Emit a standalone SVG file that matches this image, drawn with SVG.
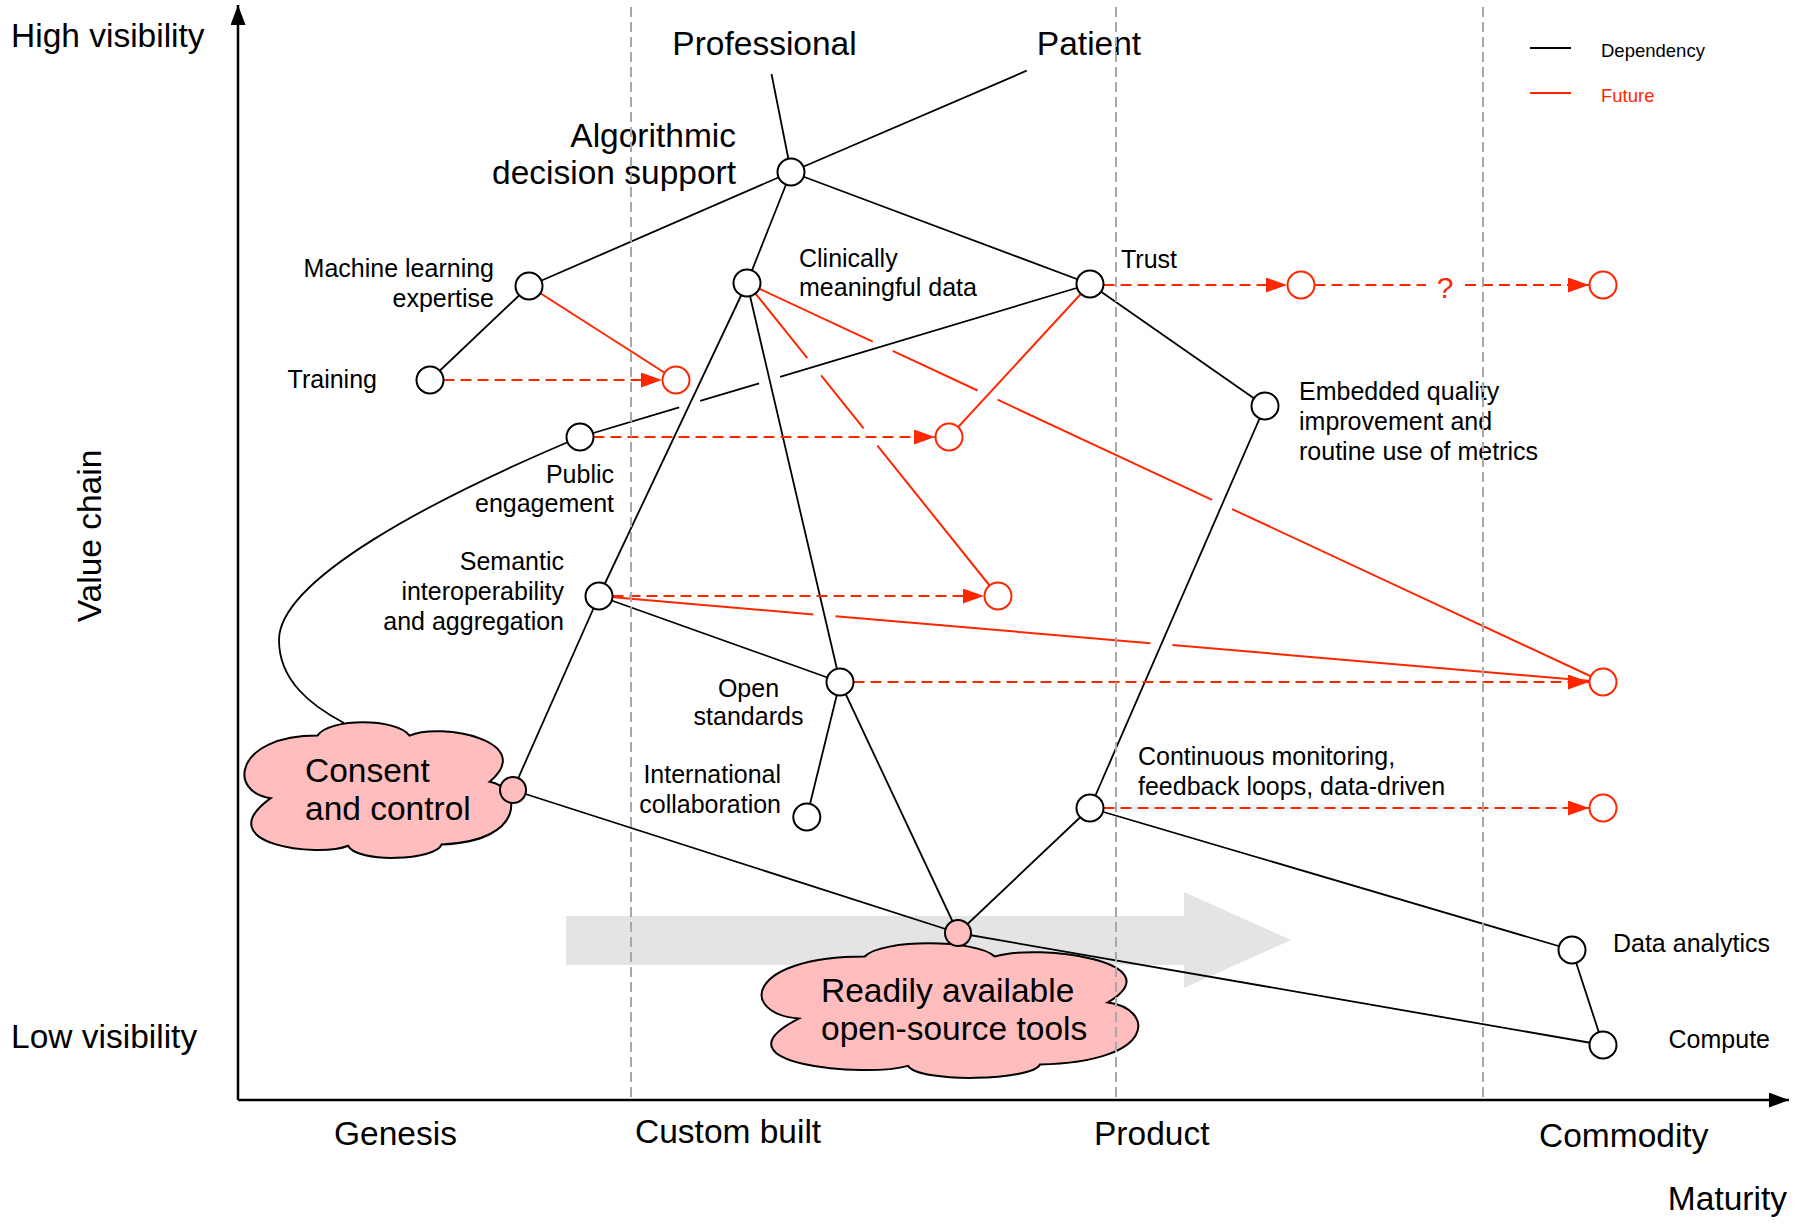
<svg xmlns="http://www.w3.org/2000/svg" width="1797" height="1231" viewBox="0 0 1797 1231">
  <style>
    text { font-family: "Liberation Sans", Arial, sans-serif; fill: #000; }
    .big { font-size: 33.5px; }
    .small { font-size: 25px; }
    .legend { font-size: 18.5px; }
    .red { fill: #ff2600; }
    .dep { fill: none; stroke: #000; stroke-width: 1.8; }
    .fut { fill: none; stroke: #ff2600; stroke-width: 2; }
    .futdash { fill: none; stroke: #ff2600; stroke-width: 2; stroke-dasharray: 11 6; }
    .guide { stroke: #a8a8a8; stroke-width: 2; stroke-dasharray: 10 5; }
    .axis { stroke: #000; stroke-width: 2.5; fill: none; }
    .n { fill: #fff; stroke: #000; stroke-width: 2; }
    .nf { fill: #fff; stroke: #ff2600; stroke-width: 2; }
    .np { fill: #ffbdbd; stroke: #000; stroke-width: 2; }
    .cloud { fill: #ffbdbd; stroke: #000; stroke-width: 2; }
  </style>
  <defs>
    <marker id="arrowRed" markerUnits="userSpaceOnUse" markerWidth="21" markerHeight="15" refX="21" refY="7.5" orient="auto">
      <path d="M0,0 L21,7.5 L0,15 Z" fill="#ff2600"/>
    </marker>
    <marker id="axisHead" markerUnits="userSpaceOnUse" markerWidth="20" markerHeight="15" refX="20" refY="7.5" orient="auto">
      <path d="M0,0 L20,7.5 L0,15 Z" fill="#000"/>
    </marker>
    <!-- cloud outline in a 100x100 box; stroke keeps its width when the box is stretched -->
    <path id="cloudShape" vector-effect="non-scaling-stroke" d="M10,56 C-6,52 -4,10 27.5,10 C32,-3 57,-3 62,10 C74,0 110,14 92,44 C104,48 106,88 74,90 C72,102 42,104 39,91 C28,100 -14,90 10,56 Z"/>
  </defs>

  <!-- evolution arrow -->
  <polygon id="evolution-arrow" points="566,916 1184,916 1184,892 1291,940 1184,988 1184,965 566,965" fill="#e4e4e4"/>

  <!-- axes -->
  <g id="axes">
    <line class="axis" x1="238" y1="1100" x2="238" y2="5" marker-end="url(#axisHead)"/>
    <line class="axis" x1="238" y1="1100" x2="1789" y2="1100" marker-end="url(#axisHead)"/>
    <text class="big" x="11" y="47">High visibility</text>
    <text class="big" x="11" y="1048">Low visibility</text>
    <text class="big" text-anchor="middle" transform="translate(101,536) rotate(-90)">Value chain</text>
    <text class="big" x="334" y="1145">Genesis</text>
    <text class="big" x="635" y="1143">Custom built</text>
    <text class="big" x="1094" y="1145">Product</text>
    <text class="big" x="1539" y="1147">Commodity</text>
    <text class="big" x="1787" y="1210" text-anchor="end">Maturity</text>
  </g>

  <!-- legend -->
  <g id="legend">
    <line x1="1530" y1="48" x2="1571" y2="48" stroke="#000" stroke-width="2"/>
    <text class="legend" x="1601" y="57">Dependency</text>
    <line x1="1530" y1="93" x2="1571" y2="93" stroke="#ff2600" stroke-width="2"/>
    <text class="legend red" x="1601" y="102">Future</text>
  </g>

  <g id="connectors">
    <!-- dependencies -->
    <path class="dep" d="M771.5,74 L791,172"/>
    <path class="dep" d="M1026.7,70.7 L791,172"/>
    <path class="dep" d="M791,172 L529,286"/>
    <path class="dep" d="M791,172 L747,283"/>
    <path class="dep" d="M791,172 L1090,284"/>
    <path class="dep" d="M529,286 L430,380"/>
    <path class="dep" d="M747,283 L599,596"/>
    <path class="dep" d="M747,283 L840,682"/>
    <path class="dep" d="M1090,284 L780.1,376.9 M759.1,383.3 L700.2,400.9 M679.2,407.3 L580,437"/>
    <path class="dep" d="M580,437 C430,500 279,580 279,640 C279,680 310,705 344,723"/>
    <path class="dep" d="M599,596 L840,682"/>
    <path class="dep" d="M599,596 L513,790"/>
    <path class="dep" d="M840,682 L806.8,817"/>
    <path class="dep" d="M840,682 L958,933"/>
    <path class="dep" d="M513,790 L958,933"/>
    <path class="dep" d="M958,933 L1090,808"/>
    <path class="dep" d="M1090,284 L1265,406"/>
    <path class="dep" d="M1265,406 L1090,808"/>
    <path class="dep" d="M1090,808 L1572,950"/>
    <path class="dep" d="M1572,950 L1603,1045"/>
    <path class="dep" d="M958,933 L1603,1045"/>

    <!-- future movements -->
    <path class="futdash" d="M443.5,380 L662,380" marker-end="url(#arrowRed)"/>
    <path class="futdash" d="M593.5,437 L935,437" marker-end="url(#arrowRed)"/>
    <path class="futdash" d="M612.5,596 L984,596" marker-end="url(#arrowRed)"/>
    <path class="futdash" d="M853.5,682 L1589,682" marker-end="url(#arrowRed)"/>
    <path class="futdash" d="M1103.5,285 L1287,285" marker-end="url(#arrowRed)"/>
    <path class="futdash" d="M1314.5,285 L1426,285"/>
    <path class="futdash" d="M1465,285 L1589,285" marker-end="url(#arrowRed)"/>
    <path class="futdash" d="M1103.5,808 L1589,808" marker-end="url(#arrowRed)"/>
    <text x="1445" y="298" text-anchor="middle" class="red" style="font-size:30px">?</text>

    <path class="fut" d="M529,286 L676,380"/>
    <path class="fut" d="M1090,284 L949,437"/>
    <path class="fut" d="M747,283 L807.3,358.2 M821.1,375.3 L863.6,428.4 M877.4,445.6 L998,596"/>
    <path class="fut" d="M747,283 L872.7,341.6 M892.7,350.8 L977.6,390.5 M997.6,399.7 L1212.1,499.9 M1232.1,509.1 L1603,682"/>
    <path class="fut" d="M599,596 L813.5,614.4 M835.5,616.2 L1150.4,643.2 M1172.4,645 L1603,682"/>
  </g>

  <!-- nodes -->
  <g id="professional">
    <text class="big" x="764.5" y="55" text-anchor="middle">Professional</text>
  </g>
  <g id="patient">
    <text class="big" x="1089" y="55" text-anchor="middle">Patient</text>
  </g>
  <g id="algorithmic-decision-support">
    <circle class="n" cx="791" cy="172" r="13.5"/>
    <text class="big" x="736" y="147" text-anchor="end">Algorithmic</text>
    <text class="big" x="736" y="184" text-anchor="end">decision support</text>
  </g>
  <g id="machine-learning-expertise">
    <circle class="n" cx="529" cy="286" r="13.5"/>
    <text class="small" x="494" y="277" text-anchor="end">Machine learning</text>
    <text class="small" x="494" y="307" text-anchor="end">expertise</text>
  </g>
  <g id="training">
    <circle class="n" cx="430" cy="380" r="13.5"/>
    <text class="small" x="377" y="388" text-anchor="end">Training</text>
  </g>
  <g id="clinically-meaningful-data">
    <circle class="n" cx="747" cy="283" r="13.5"/>
    <text class="small" x="799" y="267">Clinically</text>
    <text class="small" x="799" y="296">meaningful data</text>
  </g>
  <g id="trust">
    <circle class="n" cx="1090" cy="284" r="13.5"/>
    <text class="small" x="1121" y="268">Trust</text>
  </g>
  <g id="embedded-quality-improvement">
    <circle class="n" cx="1265" cy="406" r="13.5"/>
    <text class="small" x="1299" y="400">Embedded quality</text>
    <text class="small" x="1299" y="430">improvement and</text>
    <text class="small" x="1299" y="460">routine use of metrics</text>
  </g>
  <g id="public-engagement">
    <circle class="n" cx="580" cy="437" r="13.5"/>
    <text class="small" x="614" y="483" text-anchor="end">Public</text>
    <text class="small" x="614" y="512" text-anchor="end">engagement</text>
  </g>
  <g id="semantic-interoperability">
    <circle class="n" cx="599" cy="596" r="13.5"/>
    <text class="small" x="564" y="570" text-anchor="end">Semantic</text>
    <text class="small" x="564" y="600" text-anchor="end">interoperability</text>
    <text class="small" x="564" y="630" text-anchor="end">and aggregation</text>
  </g>
  <g id="open-standards">
    <circle class="n" cx="840" cy="682" r="13.5"/>
    <text class="small" x="748.5" y="697" text-anchor="middle">Open</text>
    <text class="small" x="748.5" y="725" text-anchor="middle">standards</text>
  </g>
  <g id="international-collaboration">
    <circle class="n" cx="806.8" cy="817" r="13.5"/>
    <text class="small" x="781" y="783" text-anchor="end">International</text>
    <text class="small" x="781" y="813" text-anchor="end">collaboration</text>
  </g>
  <g id="continuous-monitoring">
    <circle class="n" cx="1090" cy="808" r="13.5"/>
    <text class="small" x="1138" y="765">Continuous monitoring,</text>
    <text class="small" x="1138" y="795">feedback loops, data-driven</text>
  </g>
  <g id="data-analytics">
    <circle class="n" cx="1572" cy="950" r="13.5"/>
    <text class="small" x="1770" y="952" text-anchor="end">Data analytics</text>
  </g>
  <g id="compute">
    <circle class="n" cx="1603" cy="1045" r="13.5"/>
    <text class="small" x="1770" y="1048" text-anchor="end">Compute</text>
  </g>
  <g id="consent-and-control">
    <use href="#cloudShape" class="cloud" transform="translate(244,722) scale(2.67,1.36)"/>
    <circle class="np" cx="513" cy="790" r="13"/>
    <text class="big" x="305" y="782">Consent</text>
    <text class="big" x="305" y="820">and control</text>
  </g>
  <g id="open-source-tools">
    <use href="#cloudShape" class="cloud" transform="translate(761,943) scale(3.77,1.35)"/>
    <circle class="np" cx="958" cy="933" r="13"/>
    <text class="big" x="821" y="1002">Readily available</text>
    <text class="big" x="821" y="1040">open-source tools</text>
  </g>

  <!-- future positions -->
  <g id="future-ml-expertise"><circle class="nf" cx="676" cy="380" r="13.5"/></g>
  <g id="future-public-engagement"><circle class="nf" cx="949" cy="437" r="13.5"/></g>
  <g id="future-semantic"><circle class="nf" cx="998" cy="596" r="13.5"/></g>
  <g id="future-trust"><circle class="nf" cx="1301" cy="285" r="13.5"/></g>
  <g id="future-trust-commodity"><circle class="nf" cx="1603" cy="285" r="13.5"/></g>
  <g id="future-open-standards"><circle class="nf" cx="1603" cy="682" r="13.5"/></g>
  <g id="future-continuous-monitoring"><circle class="nf" cx="1603" cy="808" r="13.5"/></g>

  <!-- evolution stage boundaries -->
  <g id="stage-guides">
    <line class="guide" x1="631" y1="7" x2="631" y2="1099"/>
    <line class="guide" x1="1116" y1="7" x2="1116" y2="1099"/>
    <line class="guide" x1="1483" y1="7" x2="1483" y2="1099"/>
  </g>
</svg>
